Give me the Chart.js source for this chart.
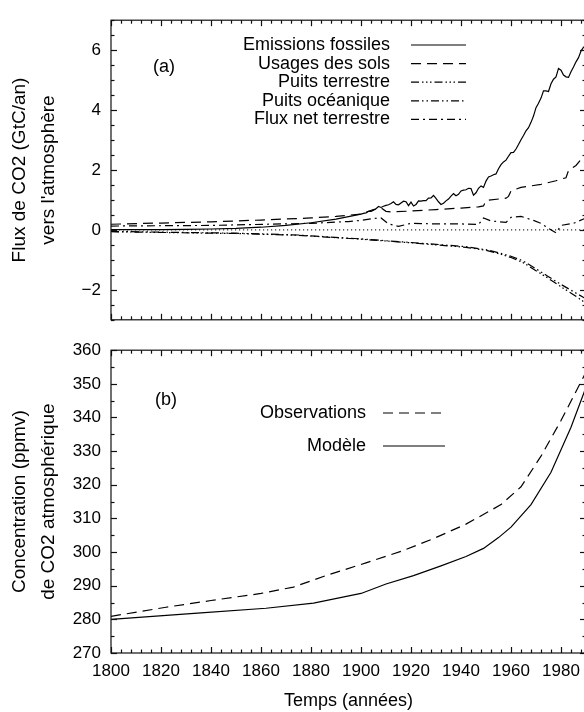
<!DOCTYPE html>
<html>
<head>
<meta charset="utf-8">
<script src="https://cdn.jsdelivr.net/npm/chart.js@4.4.1/dist/chart.umd.min.js"></script>
<style>
  html, body { margin: 0; padding: 0; background: #fff; overflow: hidden; width: 584px; height: 712px; }
  canvas { position: absolute; left: 0; }
  #fluxChart { top: 0; }
  #concChart { top: 330px; }
</style>
</head>
<body>
<canvas id="fluxChart" width="600" height="340"></canvas>
<canvas id="concChart" width="600" height="382"></canvas>
<script>
// (a) flux de CO2, GtC/an
const fossilYears = [1800, 1810, 1820, 1830, 1840, 1850, 1860, 1870, 1880, 1890,
  1900, 1901, 1902, 1903, 1904, 1905, 1906, 1907, 1908, 1909,
  1910, 1911, 1912, 1913, 1914, 1915, 1916, 1917, 1918, 1919,
  1920, 1921, 1922, 1923, 1924, 1925, 1926, 1927, 1928, 1929,
  1930, 1931, 1932, 1933, 1934, 1935, 1936, 1937, 1938, 1939,
  1940, 1941, 1942, 1943, 1944, 1945, 1946, 1947, 1948, 1949,
  1950, 1951, 1952, 1953, 1954, 1955, 1956, 1957, 1958, 1959,
  1960, 1961, 1962, 1963, 1964, 1965, 1966, 1967, 1968, 1969,
  1970, 1971, 1972, 1973, 1974, 1975, 1976, 1977, 1978, 1979,
  1980, 1981, 1982, 1983, 1984, 1985, 1986, 1987, 1988, 1989, 1990];
const fossil = [0.01, 0.01, 0.01, 0.02, 0.03, 0.05, 0.09, 0.15, 0.24, 0.36,
  0.53, 0.55, 0.57, 0.62, 0.62, 0.66, 0.71, 0.78, 0.75, 0.79,
  0.82, 0.84, 0.88, 0.94, 0.85, 0.84, 0.90, 0.96, 0.94, 0.81,
  0.93, 0.80, 0.85, 0.97, 0.96, 0.98, 0.98, 1.06, 1.07, 1.15,
  1.05, 0.94, 0.85, 0.89, 0.97, 1.03, 1.13, 1.21, 1.14, 1.19,
  1.30, 1.33, 1.34, 1.39, 1.38, 1.16, 1.24, 1.39, 1.47, 1.42,
  1.63, 1.77, 1.80, 1.84, 1.87, 2.04, 2.18, 2.27, 2.33, 2.46,
  2.58, 2.59, 2.70, 2.85, 3.01, 3.15, 3.31, 3.41, 3.59, 3.80,
  4.08, 4.23, 4.40, 4.64, 4.64, 4.62, 4.88, 5.03, 5.11, 5.39,
  5.33, 5.17, 5.11, 5.09, 5.28, 5.44, 5.61, 5.75, 5.97, 6.10, 6.14];

const landUseYears = [1800, 1820, 1840, 1860, 1880, 1890, 1900, 1905, 1908, 1910, 1912, 1920, 1930, 1940,
  1947, 1949, 1950, 1958, 1959, 1960, 1964, 1972, 1978, 1979, 1982, 1983, 1986, 1988, 1990];
const landUse = [0.19, 0.23, 0.27, 0.33, 0.40, 0.45, 0.53, 0.68, 0.74, 0.62, 0.60, 0.63, 0.68, 0.73,
  0.77, 0.80, 0.98, 1.06, 1.12, 1.30, 1.42, 1.52, 1.64, 1.68, 1.74, 1.98, 2.15, 2.35, 2.50];

const sinkYears = [1800, 1850, 1875, 1900, 1920, 1930, 1942, 1950, 1955, 1960, 1965, 1970, 1975, 1980, 1985, 1990];
const landSink = [-0.06, -0.12, -0.18, -0.31, -0.43, -0.50, -0.58, -0.68, -0.79, -0.92, -1.10, -1.36, -1.62, -1.90, -2.16, -2.45];
const oceanSink = [-0.05, -0.11, -0.17, -0.30, -0.42, -0.48, -0.56, -0.66, -0.76, -0.88, -1.04, -1.30, -1.56, -1.82, -2.06, -2.30];

const netYears = [1800, 1840, 1880, 1895, 1900, 1905, 1908, 1911, 1915, 1920, 1930, 1940, 1947, 1949,
  1952, 1958, 1960, 1964, 1969, 1972, 1975, 1978, 1980, 1985, 1990];
const netLand = [0.13, 0.15, 0.22, 0.28, 0.32, 0.38, 0.40, 0.20, 0.12, 0.22, 0.20, 0.20, 0.18, 0.40,
  0.30, 0.25, 0.42, 0.45, 0.32, 0.22, 0.05, -0.10, 0.15, 0.22, 0.40];

// (b) concentration, ppmv
const obsYears = [1800, 1822, 1840, 1860, 1873, 1886, 1902, 1916, 1929, 1942, 1956, 1964, 1972, 1980, 1990];
const observed = [280.9, 283.6, 285.6, 287.7, 289.6, 293.0, 296.8, 300.2, 304.0, 308.3, 314.1, 319.4, 328.5, 339.1, 353.5];
const modelYears = [1800, 1836, 1862, 1881, 1900, 1910, 1921, 1932, 1942, 1949, 1955, 1960, 1968, 1976, 1984, 1990];
const model = [280.0, 281.9, 283.3, 284.8, 287.7, 290.5, 293.0, 295.9, 298.7, 301.1, 304.3, 307.4, 314.1, 323.7, 337.1, 349.0];

const FONT = "'Liberation Sans', Arial, sans-serif";

function pts(xs, ys) { return xs.map((x, i) => ({ x, y: ys[i] })); }

function line(label, xs, ys, dash) {
  return { label, data: pts(xs, ys), borderColor: '#000', borderWidth: 1.2, borderDash: dash,
    pointRadius: 0, tension: 0, fill: false };
}

// frame + inward ticks on all four sides, plus optional dotted zero line
const frameTicks = {
  id: 'frameTicks',
  beforeDatasetsDraw(chart, args, o) {
    if (!o.zeroLine) return;
    const { ctx, chartArea: a, scales: { y } } = chart;
    const py = y.getPixelForValue(0);
    ctx.save();
    ctx.strokeStyle = '#000'; ctx.lineWidth = 1; ctx.setLineDash([1.2, 2.8]);
    ctx.beginPath(); ctx.moveTo(a.left, py); ctx.lineTo(a.right, py); ctx.stroke();
    ctx.restore();
  },
  afterDatasetsDraw(chart, args, o) {
    const { ctx, chartArea: a, scales: { x, y } } = chart;
    ctx.save();
    ctx.strokeStyle = '#111'; ctx.lineWidth = 1.2;
    const seg = (x1, y1, x2, y2) => { ctx.beginPath(); ctx.moveTo(x1, y1); ctx.lineTo(x2, y2); ctx.stroke(); };
    for (let v = x.min; v <= x.max + 1e-9; v += o.xMinor) {
      const px = Math.round(x.getPixelForValue(v)) + 0.5;
      const len = Math.abs(v % o.xMajor) < 1e-6 ? 6 : 3.5;
      seg(px, a.bottom, px, a.bottom - len);
      seg(px, a.top, px, a.top + len);
    }
    for (let v = y.min; v <= y.max + 1e-9; v += o.yMinor) {
      const py = Math.round(y.getPixelForValue(v)) + 0.5;
      const len = Math.abs(Math.round(v / o.yMinor) % (o.yMajor / o.yMinor)) === 0 ? 6 : 3.5;
      seg(a.left, py, a.left + len, py);
      seg(a.right, py, a.right - len, py);
    }
    ctx.strokeRect(a.left, a.top, a.right - a.left, a.bottom - a.top);
    ctx.restore();
  }
};

const seriesLegend = {
  id: 'seriesLegend',
  afterDraw(chart, args, o) {
    const ctx = chart.ctx;
    ctx.save();
    ctx.font = '18px ' + FONT; ctx.fillStyle = '#000';
    ctx.textBaseline = 'middle'; ctx.textAlign = 'right';
    chart.data.datasets.forEach((ds, i) => {
      const y = o.top + i * o.rowGap;
      ctx.fillText(ds.label, o.textRight, y);
      ctx.setLineDash(ds.borderDash || []);
      ctx.lineWidth = ds.borderWidth; ctx.strokeStyle = ds.borderColor;
      ctx.beginPath(); ctx.moveTo(o.lineFrom, y); ctx.lineTo(o.lineTo, y); ctx.stroke();
    });
    ctx.setLineDash([]);
    ctx.textAlign = 'left';
    ctx.fillText(o.tag, o.tagX, o.tagY);
    ctx.restore();
  }
};

function yAxis(min, max, step, title, labelFn) {
  return {
    type: 'linear', min, max,
    grid: { display: false, drawTicks: false }, border: { display: false },
    ticks: { stepSize: step, padding: 10, color: '#000', font: { family: FONT, size: 17 },
      autoSkip: false, callback: labelFn },
    title: { display: true, text: title, color: '#000', padding: { top: 5, bottom: 0 },
      font: { family: FONT, size: 19, lineHeight: 1.55 } },
    afterFit: s => { s.width = 111; }
  };
}

const common = {
  responsive: false, animation: false,
  plugins: { legend: { display: false }, tooltip: { enabled: false } }
};

new Chart(document.getElementById('fluxChart'), {
  type: 'line',
  data: {
    datasets: [
      line('Emissions fossiles', fossilYears, fossil, []),
      line('Usages des sols', landUseYears, landUse, [10, 6]),
      line('Puits terrestre', sinkYears, landSink, [8, 3, 1.5, 2.5, 1.5, 2.5, 1.5, 3]),
      line('Puits océanique', sinkYears, oceanSink, [8, 3, 1.5, 3, 1.5, 3]),
      line('Flux net terrestre', netYears, netLand, [8, 4, 2, 4])
    ]
  },
  options: {
    ...common,
    layout: { padding: { top: 14, right: 14, left: 0, bottom: 0 } },
    scales: {
      x: { type: 'linear', min: 1800, max: 1990,
        grid: { display: false, drawTicks: false }, border: { display: false },
        ticks: { display: false, stepSize: 10 },
        afterFit: s => { s.height = 14; } },
      y: yAxis(-3, 7, 1, ['Flux de CO2 (GtC/an)', 'vers l\'atmosphère'],
        v => (v % 2 === 0 ? String(v).replace('-', '\u2212') : ''))
    },
    plugins: {
      ...common.plugins,
      frameTicks: { xMinor: 4, xMajor: 20, yMinor: 0.5, yMajor: 2, zeroLine: true },
      seriesLegend: { top: 45, rowGap: 18.6, textRight: 390, lineFrom: 411, lineTo: 466,
        tag: '(a)', tagX: 153, tagY: 67 }
    }
  },
  plugins: [frameTicks, seriesLegend]
});

new Chart(document.getElementById('concChart'), {
  type: 'line',
  data: {
    datasets: [
      line('Observations', obsYears, observed, [10, 6]),
      line('Modèle', modelYears, model, [])
    ]
  },
  options: {
    ...common,
    layout: { padding: { top: 11, right: 14, left: 0, bottom: 0 } },
    scales: {
      x: { type: 'linear', min: 1800, max: 1990,
        grid: { display: false, drawTicks: false }, border: { display: false },
        ticks: { stepSize: 10, padding: 8, color: '#000', autoSkip: false, maxRotation: 0,
          font: { family: FONT, size: 17 }, callback: v => (v % 20 === 0 ? String(v) : '') },
        title: { display: true, text: 'Temps (années)', color: '#000', padding: { top: 0, bottom: 0 },
          font: { family: FONT, size: 18 } },
        afterFit: s => { s.height = 59; } },
      y: yAxis(270, 360, 10, ['Concentration (ppmv)', 'de CO2 atmosphérique'], v => String(v))
    },
    plugins: {
      ...common.plugins,
      frameTicks: { xMinor: 4, xMajor: 20, yMinor: 5, yMajor: 10, zeroLine: false },
      seriesLegend: { top: 83, rowGap: 33, textRight: 366, lineFrom: 383, lineTo: 445,
        tag: '(b)', tagX: 155, tagY: 70 }
    }
  },
  plugins: [frameTicks, seriesLegend]
});
</script>
</body>
</html>
